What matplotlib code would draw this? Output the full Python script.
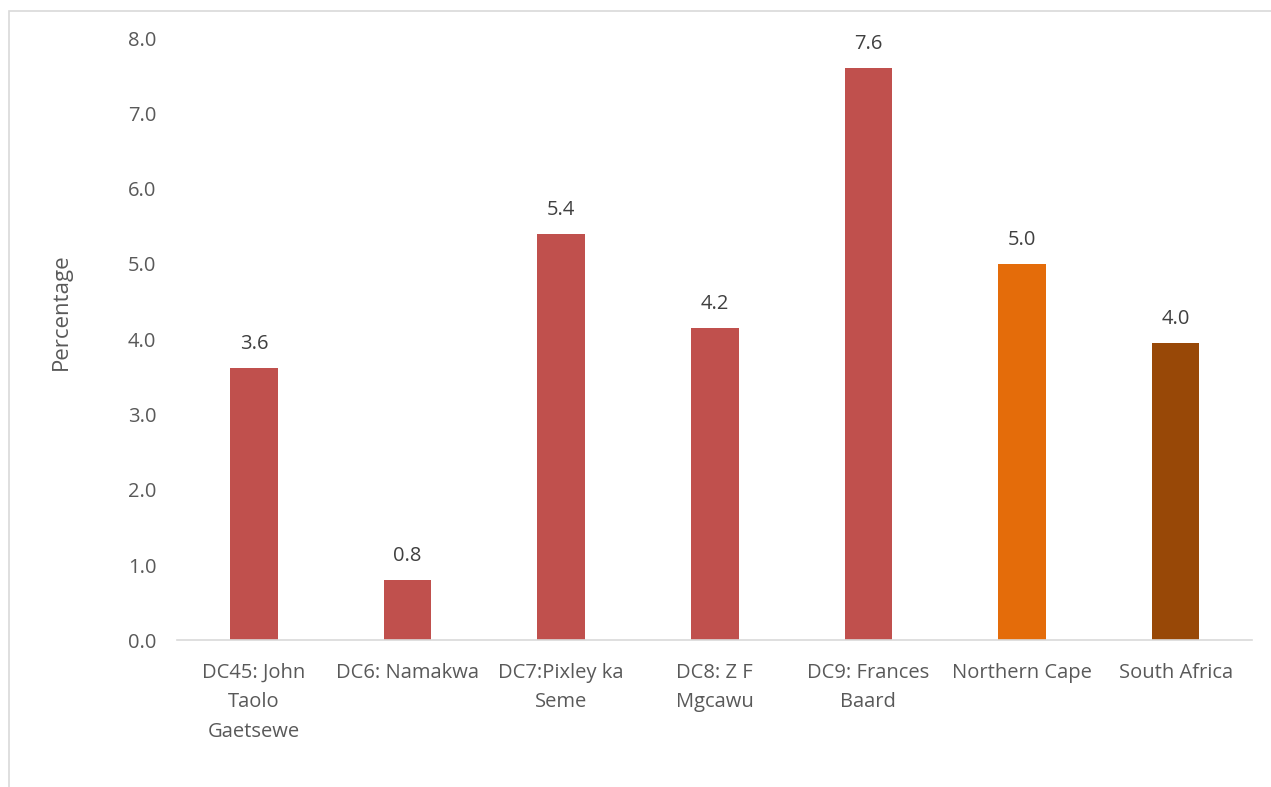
from matplotlib import pyplot as plt
from matplotlib.patches import Rectangle

# districts of the Northern Cape plus province and national totals
categories = ['DC45: John\nTaolo\nGaetsewe', 'DC6: Namakwa', 'DC7:Pixley ka\nSeme',
              'DC8: Z F\nMgcawu', 'DC9: Frances\nBaard', 'Northern Cape', 'South Africa']
values = [3.62, 0.8, 5.4, 4.15, 7.6, 5.0, 3.95]
colors = ['#C0504D'] * 5 + ['#E46C0A', '#984807']

plt.rcParams['font.family'] = ['Open Sans', 'DejaVu Sans']
text_color = '#595959'

fig = plt.figure(figsize=(12.71, 7.87), dpi=100)
ax = fig.add_axes([0.1393, 0.1862, 0.8461, 0.7655])

x = range(len(categories))
bars = ax.bar(x, values, width=0.31, color=colors)

# value labels above each bar
for rect, v in zip(bars, values):
    ax.annotate(f'{v:.1f}', (rect.get_x() + rect.get_width() / 2, v),
                xytext=(0, 10), textcoords='offset points',
                ha='center', va='bottom', fontsize=14.5, color='#404040')

ax.set_xlim(-0.5, len(categories) - 0.5)
ax.set_ylim(0, 8)
ax.set_yticks([i for i in range(9)])
ax.set_yticklabels([f'{i:.1f}' for i in range(9)])
ax.set_xticks(list(x))
ax.set_xticklabels(categories, linespacing=1.65)

ax.tick_params(axis='both', length=0, labelsize=14.5, colors=text_color)
ax.tick_params(axis='y', pad=15)
ax.tick_params(axis='x', pad=16)
ax.set_ylabel('Percentage', fontsize=16, color=text_color, labelpad=40, y=0.545)

for side in ['top', 'right', 'left']:
    ax.spines[side].set_visible(False)
ax.spines['bottom'].set_color('#D9D9D9')
ax.spines['bottom'].set_linewidth(1.2)

# chart area border
fig.patches.append(Rectangle((9 / 1271, -0.1), 1.2, 1 - 11 / 787 + 0.1,
                             transform=fig.transFigure, fill=False,
                             edgecolor='#D9D9D9', linewidth=1.2))

fig.savefig('out.png', dpi=100)
